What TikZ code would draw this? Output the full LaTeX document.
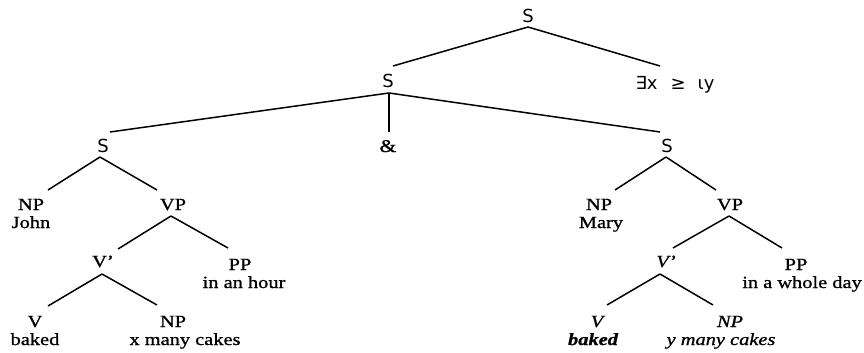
\documentclass[tikz,border=0pt]{standalone}
\usepackage{fontspec}
\setmainfont{Liberation Serif}[FakeStretch=1.2,FakeBold=1.0]
\newfontfamily\sansS{DejaVu Sans}
\begin{document}
\begin{tikzpicture}[x=1pt,y=-1pt,
  lab/.style={anchor=base,inner sep=0pt,font=\fontsize{17}{20}\selectfont},
  slab/.style={anchor=base,inner sep=0pt,font=\sansS\fontsize{18}{21}\selectfont},
  ilab/.style={lab,font=\fontsize{17}{20}\selectfont\itshape},
  bilab/.style={lab,font=\fontsize{17}{20}\selectfont\itshape\bfseries},
  br/.style={line width=1.5pt}]
\useasboundingbox (0,0) rectangle (864,353);
% top levels
\node[slab] (s0) at (528,23) {S};
\node[slab] (s1) at (388,88) {S};
\node[slab] (q) at (675,89) {∃x\hspace{13pt}≥\hspace{12pt}ιy};
\node[slab] (s2) at (103,152) {S};
\node[lab,font=\fontsize{18}{20}\selectfont] (amp) at (388,152) {\&};
\node[slab] (s3) at (667,152) {S};
% left subtree
\node[lab] (np1) at (31,210) {NP};
\node[lab] (john) at (31,228) {John};
\node[lab] (vp1) at (173,210) {VP};
\node[lab] (vb1) at (103,267) {V'};
\node[lab] (pp1) at (240,270) {PP};
\node[lab] (hour) at (244,288) {in an hour};
\node[lab] (v1) at (35,327) {V};
\node[lab] (baked1) at (35,345) {baked};
\node[lab] (np2) at (173,327) {NP};
\node[lab] (cakes1) at (185,345) {x many cakes};
% right subtree
\node[lab] (np3) at (599,210) {NP};
\node[lab] (mary) at (601,228) {Mary};
\node[lab] (vp3) at (730,210) {VP};
\node[ilab] (vb3) at (666,267) {V'};
\node[lab] (pp3) at (796,270) {PP};
\node[lab] (day) at (802,288) {in a whole day};
\node[ilab] (v3) at (597,327) {V};
\node[bilab] (baked3) at (593,345) {baked};
\node[ilab] (np4) at (730,327) {NP};
\node[ilab] (cakes3) at (721,345) {y many cakes};
% branches
\draw[br] ([shift={(0,4)}]s0.base) -- ([shift={(5,-22)}]s1.base);
\draw[br] ([shift={(0,4)}]s0.base) -- ([shift={(-15,-23)}]q.base);
\draw[br] ([shift={(1,5)}]s1.base) -- ([shift={(7,-20)}]s2.base);
\draw[br] ([shift={(1,5)}]s1.base) -- ([shift={(1,-20)}]amp.base);
\draw[br] ([shift={(1,5)}]s1.base) -- ([shift={(-7,-20)}]s3.base);
\draw[br] ([shift={(-3,5)}]s2.base) -- ([shift={(17,-20)}]np1.base);
\draw[br] ([shift={(-3,5)}]s2.base) -- ([shift={(-16,-20)}]vp1.base);
\draw[br] ([shift={(-2,6)}]vp1.base) -- ([shift={(15,-18)}]vb1.base);
\draw[br] ([shift={(-2,6)}]vp1.base) -- ([shift={(-12,-22)}]pp1.base);
\draw[br] ([shift={(-1,7)}]vb1.base) -- ([shift={(13,-21)}]v1.base);
\draw[br] ([shift={(-1,7)}]vb1.base) -- ([shift={(-16,-22)}]np2.base);
\draw[br] ([shift={(-1,5)}]s3.base) -- ([shift={(16,-20)}]np3.base);
\draw[br] ([shift={(-1,5)}]s3.base) -- ([shift={(-14,-20)}]vp3.base);
\draw[br] ([shift={(-1,6)}]vp3.base) -- ([shift={(7,-19)}]vb3.base);
\draw[br] ([shift={(-1,6)}]vp3.base) -- ([shift={(-14,-22)}]pp3.base);
\draw[br] ([shift={(-6,7)}]vb3.base) -- ([shift={(10,-22)}]v3.base);
\draw[br] ([shift={(-6,7)}]vb3.base) -- ([shift={(-17,-22)}]np4.base);
\end{tikzpicture}
\end{document}
